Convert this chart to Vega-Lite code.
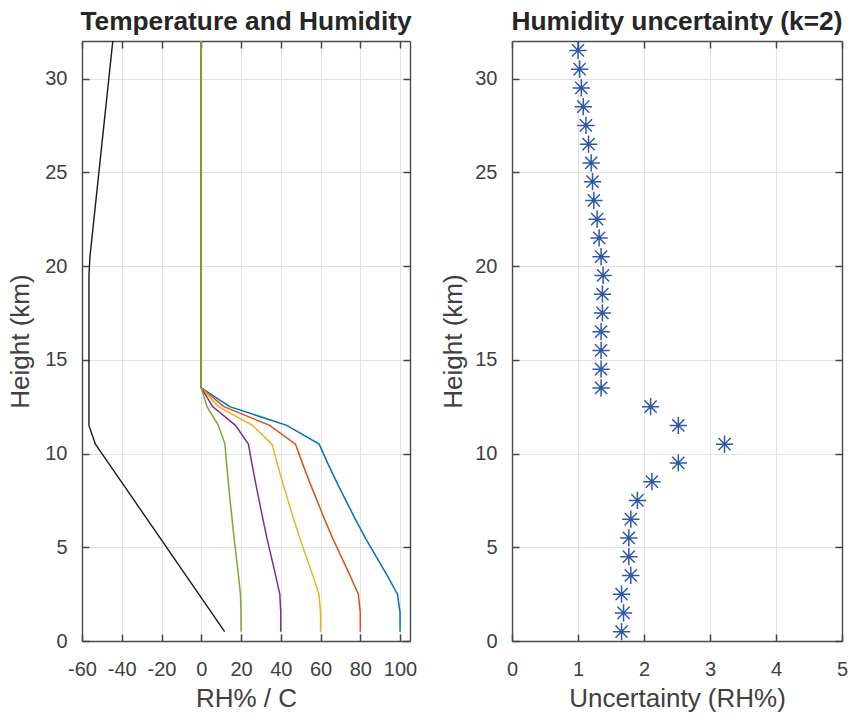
{
  "$schema": "https://vega.github.io/schema/vega-lite/v6.json",
  "background": "white",
  "padding": {"left": 7, "top": 8, "right": 5, "bottom": 5},
  "bounds": "flush",
  "spacing": 102,
  "config": {
    "font": "Liberation Sans",
    "view": {"stroke": null},
    "title": {"font": "Liberation Sans", "fontSize": 26.3, "fontWeight": "bold", "color": "#262626", "anchor": "middle", "offset": 5},
    "axis": {
      "labelFont": "Liberation Sans",
      "titleFont": "Liberation Sans",
      "labelFontSize": 20,
      "titleFontSize": 26,
      "titleFontWeight": "normal",
      "labelColor": "#404040",
      "titleColor": "#404040",
      "labelFlush": false,
      "labelOverlap": false,
      "domainColor": "#4a4a4a",
      "domainWidth": 1.4,
      "tickColor": "#444444",
      "tickWidth": 1.5,
      "tickSize": -7,
      "gridColor": "#e2e2e2",
      "gridWidth": 1,
      "gridOpacity": 1
    }
  },
  "datasets": {
    "profile": [
      {"h": 0.5, "T": 11.75, "RH100": 100, "RH80": 80, "RH60": 60, "RH40": 40, "RH20": 20, "U": 1.66},
      {"h": 1.5, "T": 5.25, "RH100": 100, "RH80": 80, "RH60": 60, "RH40": 40, "RH20": 20, "U": 1.69},
      {"h": 2.5, "T": -1.25, "RH100": 98.7, "RH80": 79.0, "RH60": 59.2, "RH40": 39.5, "RH20": 19.7, "U": 1.66},
      {"h": 3.5, "T": -7.75, "RH100": 93.5, "RH80": 74.8, "RH60": 56.1, "RH40": 37.4, "RH20": 18.7, "U": 1.80},
      {"h": 4.5, "T": -14.25, "RH100": 88.0, "RH80": 70.4, "RH60": 52.8, "RH40": 35.2, "RH20": 17.6, "U": 1.77},
      {"h": 5.5, "T": -20.75, "RH100": 82.5, "RH80": 66.0, "RH60": 49.5, "RH40": 33.0, "RH20": 16.5, "U": 1.77},
      {"h": 6.5, "T": -27.25, "RH100": 77.5, "RH80": 62.0, "RH60": 46.5, "RH40": 31.0, "RH20": 15.5, "U": 1.80},
      {"h": 7.5, "T": -33.75, "RH100": 72.7, "RH80": 58.2, "RH60": 43.6, "RH40": 29.1, "RH20": 14.5, "U": 1.90},
      {"h": 8.5, "T": -40.25, "RH100": 68.0, "RH80": 54.4, "RH60": 40.8, "RH40": 27.2, "RH20": 13.6, "U": 2.12},
      {"h": 9.5, "T": -46.75, "RH100": 63.5, "RH80": 50.8, "RH60": 38.1, "RH40": 25.4, "RH20": 12.7, "U": 2.52},
      {"h": 10.5, "T": -53.25, "RH100": 59.3, "RH80": 47.4, "RH60": 35.6, "RH40": 23.7, "RH20": 11.9, "U": 3.22},
      {"h": 11.5, "T": -56.5, "RH100": 43.0, "RH80": 34.4, "RH60": 25.8, "RH40": 17.2, "RH20": 8.6, "U": 2.52},
      {"h": 12.5, "T": -56.5, "RH100": 14.3, "RH80": 11.4, "RH60": 8.6, "RH40": 5.7, "RH20": 2.9, "U": 2.10},
      {"h": 13.5, "T": -56.5, "RH100": 0, "RH80": 0, "RH60": 0, "RH40": 0, "RH20": 0, "U": 1.35},
      {"h": 14.5, "T": -56.5, "RH100": 0, "RH80": 0, "RH60": 0, "RH40": 0, "RH20": 0, "U": 1.35},
      {"h": 15.5, "T": -56.5, "RH100": 0, "RH80": 0, "RH60": 0, "RH40": 0, "RH20": 0, "U": 1.35},
      {"h": 16.5, "T": -56.5, "RH100": 0, "RH80": 0, "RH60": 0, "RH40": 0, "RH20": 0, "U": 1.35},
      {"h": 17.5, "T": -56.5, "RH100": 0, "RH80": 0, "RH60": 0, "RH40": 0, "RH20": 0, "U": 1.37},
      {"h": 18.5, "T": -56.5, "RH100": 0, "RH80": 0, "RH60": 0, "RH40": 0, "RH20": 0, "U": 1.37},
      {"h": 19.5, "T": -56.5, "RH100": 0, "RH80": 0, "RH60": 0, "RH40": 0, "RH20": 0, "U": 1.38},
      {"h": 20.5, "T": -56.0, "RH100": 0, "RH80": 0, "RH60": 0, "RH40": 0, "RH20": 0, "U": 1.35},
      {"h": 21.5, "T": -55.0, "RH100": 0, "RH80": 0, "RH60": 0, "RH40": 0, "RH20": 0, "U": 1.32},
      {"h": 22.5, "T": -54.0, "RH100": 0, "RH80": 0, "RH60": 0, "RH40": 0, "RH20": 0, "U": 1.29},
      {"h": 23.5, "T": -53.0, "RH100": 0, "RH80": 0, "RH60": 0, "RH40": 0, "RH20": 0, "U": 1.24},
      {"h": 24.5, "T": -52.0, "RH100": 0, "RH80": 0, "RH60": 0, "RH40": 0, "RH20": 0, "U": 1.22},
      {"h": 25.5, "T": -51.0, "RH100": 0, "RH80": 0, "RH60": 0, "RH40": 0, "RH20": 0, "U": 1.20},
      {"h": 26.5, "T": -50.0, "RH100": 0, "RH80": 0, "RH60": 0, "RH40": 0, "RH20": 0, "U": 1.16},
      {"h": 27.5, "T": -49.0, "RH100": 0, "RH80": 0, "RH60": 0, "RH40": 0, "RH20": 0, "U": 1.12},
      {"h": 28.5, "T": -48.0, "RH100": 0, "RH80": 0, "RH60": 0, "RH40": 0, "RH20": 0, "U": 1.08},
      {"h": 29.5, "T": -47.0, "RH100": 0, "RH80": 0, "RH60": 0, "RH40": 0, "RH20": 0, "U": 1.05},
      {"h": 30.5, "T": -46.0, "RH100": 0, "RH80": 0, "RH60": 0, "RH40": 0, "RH20": 0, "U": 1.025},
      {"h": 31.5, "T": -45.0, "RH100": 0, "RH80": 0, "RH60": 0, "RH40": 0, "RH20": 0, "U": 1.00},
      {"h": 32.5, "T": -44.0, "RH100": 0, "RH80": 0, "RH60": 0, "RH40": 0, "RH20": 0, "U": null}
    ]
  },
  "data": {"name": "profile"},
  "hconcat": [
    {
      "width": 328,
      "height": 600,
      "title": "Temperature and Humidity",
      "layer": [
        {
          "mark": {"type": "line", "clip": true, "color": "#1a1a1a", "strokeWidth": 1.4},
          "encoding": {
            "x": {"field": "T", "type": "quantitative", "scale": {"domain": [-60, 105], "nice": false, "zero": false},
                  "axis": {"orient": "bottom", "title": "RH% / C", "values": [-60, -40, -20, 0, 20, 40, 60, 80, 100], "labelExpr": "'' + datum.value", "labelPadding": 25, "titlePadding": 6, "grid": true}},
            "y": {"field": "h", "type": "quantitative", "scale": {"domain": [0, 32], "nice": false, "zero": false},
                  "axis": {"orient": "left", "title": "Height (km)", "values": [0, 5, 10, 15, 20, 25, 30], "labelPadding": 22, "titlePadding": 11, "grid": true}},
            "order": {"field": "h", "type": "quantitative"}
          }
        },
        {
          "transform": [{"fold": ["RH100", "RH80", "RH60", "RH40", "RH20"], "as": ["series", "RH"]}],
          "mark": {"type": "line", "clip": true, "strokeWidth": 1.5},
          "encoding": {
            "x": {"field": "RH", "type": "quantitative", "axis": null},
            "y": {"field": "h", "type": "quantitative", "axis": null},
            "color": {"field": "series", "type": "nominal", "legend": null,
                      "scale": {"domain": ["RH100", "RH80", "RH60", "RH40", "RH20"], "range": ["#0072BD", "#D95319", "#EDB120", "#7E2F8E", "#77AC30"]}},
            "order": {"field": "h", "type": "quantitative"}
          }
        },
        {
          "mark": {"type": "point", "clip": true, "opacity": 0},
          "encoding": {
            "x": {"field": "T", "type": "quantitative",
                  "axis": {"orient": "top", "title": null, "labels": false, "grid": false, "values": [-60, -40, -20, 0, 20, 40, 60, 80, 100]}},
            "y": {"field": "h", "type": "quantitative",
                  "axis": {"orient": "right", "title": null, "labels": false, "grid": false, "values": [0, 5, 10, 15, 20, 25, 30]}}
          }
        }
      ],
      "resolve": {"axis": {"x": "independent", "y": "independent"}}
    },
    {
      "width": 330,
      "height": 600,
      "title": "Humidity uncertainty (k=2)",
      "layer": [
        {
          "mark": {"type": "point", "clip": true, "filled": false, "color": "#2f58a8", "strokeWidth": 1.5, "opacity": 1, "size": 300,
                   "shape": "M-1,0L1,0M0,-1L0,1M-0.7,-0.7L0.7,0.7M-0.7,0.7L0.7,-0.7"},
          "encoding": {
            "x": {"field": "U", "type": "quantitative", "scale": {"domain": [0, 5], "nice": false, "zero": false},
                  "axis": {"orient": "bottom", "title": "Uncertainty (RH%)", "values": [0, 1, 2, 3, 4, 5], "labelPadding": 25, "titlePadding": 6, "grid": true}},
            "y": {"field": "h", "type": "quantitative", "scale": {"domain": [0, 32], "nice": false, "zero": false},
                  "axis": {"orient": "left", "title": "Height (km)", "values": [0, 5, 10, 15, 20, 25, 30], "labelPadding": 22, "titlePadding": 8, "grid": true}}
          }
        },
        {
          "mark": {"type": "point", "clip": true, "opacity": 0},
          "encoding": {
            "x": {"field": "U", "type": "quantitative",
                  "axis": {"orient": "top", "title": null, "labels": false, "grid": false, "values": [0, 1, 2, 3, 4, 5]}},
            "y": {"field": "h", "type": "quantitative",
                  "axis": {"orient": "right", "title": null, "labels": false, "grid": false, "values": [0, 5, 10, 15, 20, 25, 30]}}
          }
        }
      ],
      "resolve": {"axis": {"x": "independent", "y": "independent"}}
    }
  ]
}
